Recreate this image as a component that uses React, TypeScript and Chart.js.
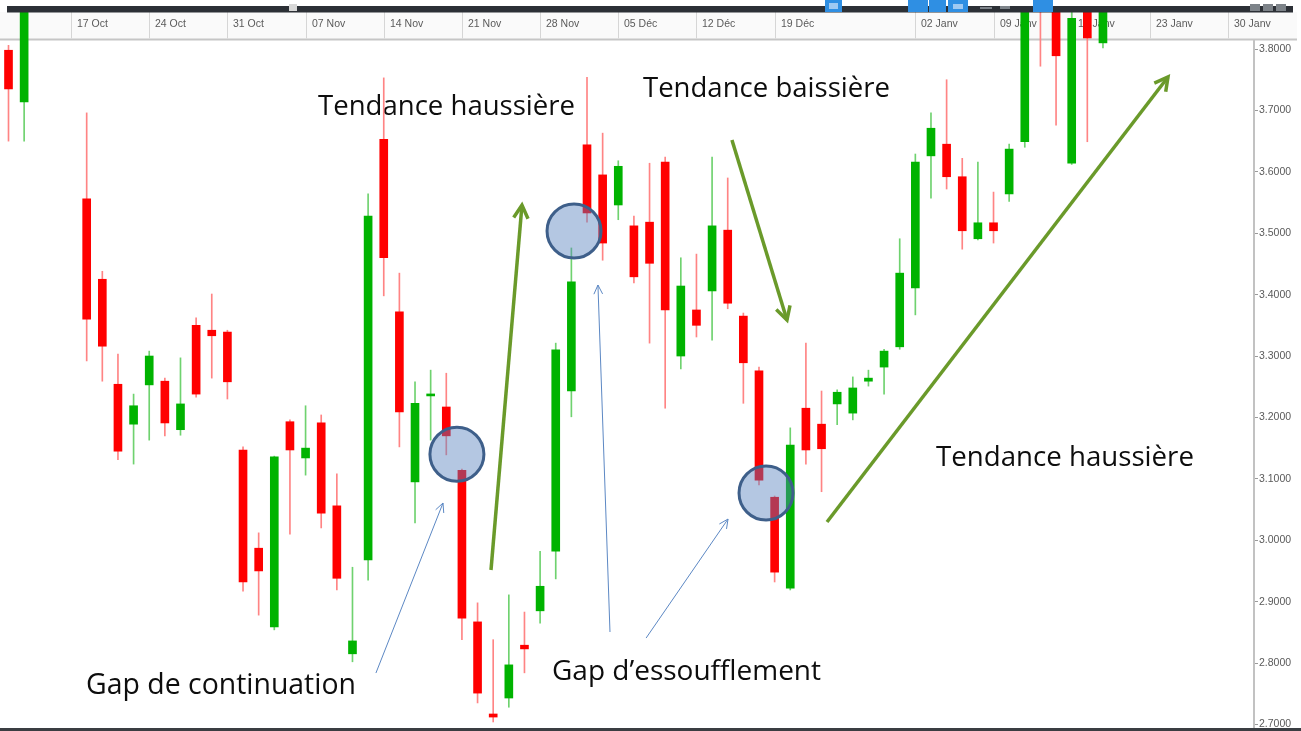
import { useEffect, useRef } from 'react';
import { Chart, registerables } from 'chart.js';

Chart.register(...registerables);

// ---- Data (trading-day index, OHLC) ----
const CANDLE_INDEX = [0, 1, 5, 6, 7, 8, 9, 10, 11, 12, 13, 14, 15, 16, 17, 18, 19, 20, 21, 22, 23, 24, 25, 26, 27, 28, 29, 30, 31, 32, 33, 34, 35, 36, 37, 38, 39, 40, 41, 42, 43, 44, 45, 46, 47, 48, 49, 50, 51, 52, 53, 54, 55, 56, 57, 58, 59, 60, 61, 62, 63, 64, 65, 66, 67, 68, 69, 70];
const OPEN = [3.798, 3.714, 3.556, 3.425, 3.254, 3.189, 3.253, 3.259, 3.180, 3.350, 3.342, 3.339, 3.147, 2.987, 2.859, 3.193, 3.134, 3.191, 3.056, 2.815, 2.968, 3.653, 3.372, 3.095, 3.235, 3.217, 3.114, 2.867, 2.717, 2.743, 2.829, 2.885, 2.982, 3.243, 3.644, 3.595, 3.546, 3.512, 3.518, 3.616, 3.300, 3.375, 3.406, 3.505, 3.365, 3.276, 3.070, 2.922, 3.215, 3.189, 3.222, 3.207, 3.259, 3.282, 3.315, 3.411, 3.626, 3.645, 3.592, 3.491, 3.517, 3.564, 3.649, 3.950, 3.920, 3.614, 3.900, 3.810];
const HIGH = [3.806, 3.900, 3.696, 3.438, 3.303, 3.238, 3.308, 3.264, 3.297, 3.362, 3.401, 3.342, 3.152, 3.012, 3.137, 3.196, 3.219, 3.204, 3.108, 2.956, 3.564, 3.753, 3.435, 3.258, 3.277, 3.272, 3.116, 2.898, 2.838, 2.911, 2.883, 2.982, 3.321, 3.476, 3.754, 3.663, 3.618, 3.528, 3.614, 3.624, 3.460, 3.466, 3.624, 3.590, 3.370, 3.282, 3.072, 3.183, 3.321, 3.243, 3.245, 3.266, 3.277, 3.311, 3.491, 3.629, 3.696, 3.750, 3.622, 3.616, 3.567, 3.645, 3.900, 3.970, 3.950, 3.860, 3.920, 3.900];
const LOW = [3.650, 3.650, 3.292, 3.259, 3.131, 3.124, 3.163, 3.170, 3.171, 3.233, 3.264, 3.230, 2.917, 2.878, 2.854, 3.010, 3.106, 3.020, 2.919, 2.802, 2.935, 3.398, 3.152, 3.028, 3.163, 3.139, 2.838, 2.735, 2.704, 2.728, 2.784, 2.865, 2.937, 3.201, 3.518, 3.456, 3.522, 3.419, 3.321, 3.215, 3.279, 3.331, 3.326, 3.377, 3.223, 3.090, 2.932, 2.919, 3.124, 3.079, 3.188, 3.196, 3.251, 3.238, 3.311, 3.367, 3.557, 3.572, 3.474, 3.489, 3.484, 3.552, 3.640, 3.772, 3.676, 3.612, 3.649, 3.802];
const CLOSE = [3.735, 3.880, 3.360, 3.316, 3.145, 3.219, 3.300, 3.191, 3.222, 3.238, 3.333, 3.258, 2.932, 2.950, 3.136, 3.147, 3.150, 3.044, 2.938, 2.836, 3.528, 3.460, 3.209, 3.223, 3.237, 3.170, 2.873, 2.751, 2.712, 2.797, 2.823, 2.925, 3.310, 3.421, 3.533, 3.484, 3.609, 3.429, 3.451, 3.375, 3.414, 3.350, 3.512, 3.386, 3.289, 3.098, 2.948, 3.155, 3.147, 3.149, 3.241, 3.248, 3.264, 3.308, 3.435, 3.616, 3.671, 3.592, 3.504, 3.517, 3.504, 3.637, 3.880, 3.900, 3.789, 3.850, 3.818, 3.880];

// Date labels in the top header (trading-day index of each Monday)
const DATE_INDEX = [4, 9, 14, 19, 24, 29, 34, 39, 44, 49, 58, 63, 68, 73, 78];
const DATE_LABELS = ['17 Oct', '24 Oct', '31 Oct', '07 Nov', '14 Nov', '21 Nov', '28 Nov', '05 Déc', '12 Déc', '19 Déc', '02 Janv', '09 Janv', '16 Janv', '23 Janv', '30 Janv'];

// Price axis tick values
const Y_TICKS = [2.7, 2.8, 2.9, 3.0, 3.1, 3.2, 3.3, 3.4, 3.5, 3.6, 3.7, 3.8];

// Annotations (data coordinates: index, price)
const NOTE_TEXTS = ['Tendance haussière', 'Tendance baissière', 'Tendance haussière', 'Gap de continuation', 'Gap d’essoufflement'];
const NOTE_AT_INDEX = [19.8, 40.58, 59.32, 4.96, 34.76];
const NOTE_AT_PRICE = [3.6925, 3.7218, 3.1208, 2.7495, 2.7723];

const GAP_CIRCLE_INDEX = [28.68, 36.17, 48.45];
const GAP_CIRCLE_PRICE = [3.140, 3.5036, 3.0769];

// trend arrows: [fromIndex, fromPrice, toIndex, toPrice]
const TREND_ARROWS = [
  [30.86, 2.9515, 32.84, 3.5459],
  [46.27, 3.6518, 49.79, 3.3586],
  [52.35, 3.0296, 74.16, 3.7544],
];
const POINTER_ARROWS = [
  [23.5, 2.7837, 27.79, 3.0606],
  [38.47, 2.8505, 37.70, 3.4156],
  [40.78, 2.8407, 46.02, 3.0345],
];

const UP = '#00b300';
const DOWN = '#ff0000';
const UP_WICK = '#6fd26f';
const DOWN_WICK = '#ff8484';

function isUp(k: number) {
  return CLOSE[k] >= OPEN[k];
}

function drawArrow(ctx: CanvasRenderingContext2D, x1: number, y1: number, x2: number, y2: number, color: string, width: number, head: number, ang: number) {
  ctx.save();
  ctx.strokeStyle = color;
  ctx.lineWidth = width;
  ctx.lineCap = 'butt';
  ctx.lineJoin = 'miter';
  ctx.beginPath();
  ctx.moveTo(x1, y1);
  ctx.lineTo(x2, y2);
  ctx.stroke();
  const a = Math.atan2(y2 - y1, x2 - x1);
  ctx.beginPath();
  ctx.moveTo(x2 - head * Math.cos(a - ang), y2 - head * Math.sin(a - ang));
  ctx.lineTo(x2, y2);
  ctx.lineTo(x2 - head * Math.cos(a + ang), y2 - head * Math.sin(a + ang));
  ctx.stroke();
  ctx.restore();
}

const NOTE_WIDTHS = [257, 247, 258, 270, 269];

const decorPlugin = {
  id: 'decor',
  beforeDraw(chart: any) {
    const ctx = chart.ctx;
    ctx.save();
    ctx.fillStyle = '#ffffff';
    ctx.fillRect(0, 0, chart.width, chart.height);
    ctx.restore();
  },
  beforeDatasetsDraw(chart: any) {
    const ctx: CanvasRenderingContext2D = chart.ctx;
    const xs = chart.scales.x;
    const ys = chart.scales.y;
    ctx.save();
    // header row
    ctx.fillStyle = '#fafafa';
    ctx.fillRect(0, 12, 1297, 27);
    ctx.fillStyle = '#c6c6c6';
    ctx.fillRect(0, 38.5, 1297, 2);
    ctx.font = '10.5px "Liberation Sans", Arial, sans-serif';
    ctx.textBaseline = 'middle';
    ctx.textAlign = 'left';
    DATE_INDEX.forEach((d, k) => {
      const x = Math.round(xs.getPixelForValue(d)) + 0.5;
      ctx.strokeStyle = '#d6d6d6';
      ctx.lineWidth = 1;
      ctx.beginPath();
      ctx.moveTo(x, 12);
      ctx.lineTo(x, 38.5);
      ctx.stroke();
      ctx.fillStyle = '#5a5a5a';
      ctx.fillText(DATE_LABELS[k], x + 5.5, 24.5);
    });
    // annotation texts (under the candles)
    ctx.fillStyle = '#0d0d0d';
    ctx.textBaseline = 'alphabetic';
    NOTE_TEXTS.forEach((t, k) => {
      ctx.font = '100px "Open Sans"';
      const w = ctx.measureText(t).width;
      const size = (100 * NOTE_WIDTHS[k]) / w;
      ctx.font = `${size.toFixed(2)}px "Open Sans"`;
      ctx.fillText(t, xs.getPixelForValue(NOTE_AT_INDEX[k]), ys.getPixelForValue(NOTE_AT_PRICE[k]));
    });
    ctx.restore();
  },
  afterDatasetsDraw(chart: any) {
    const ctx: CanvasRenderingContext2D = chart.ctx;
    const xs = chart.scales.x;
    const ys = chart.scales.y;
    ctx.save();
    GAP_CIRCLE_INDEX.forEach((ci, k) => {
      const cx = xs.getPixelForValue(ci);
      const cy = ys.getPixelForValue(GAP_CIRCLE_PRICE[k]);
      ctx.beginPath();
      ctx.arc(cx, cy, 27, 0, Math.PI * 2);
      ctx.fillStyle = 'rgba(84,127,189,0.44)';
      ctx.fill();
      ctx.lineWidth = 3;
      ctx.strokeStyle = '#3e5f8a';
      ctx.stroke();
    });
    TREND_ARROWS.forEach((a) => {
      drawArrow(ctx, xs.getPixelForValue(a[0]), ys.getPixelForValue(a[1]), xs.getPixelForValue(a[2]), ys.getPixelForValue(a[3]), '#6a9a2a', 3.5, 15, 0.5);
    });
    POINTER_ARROWS.forEach((a) => {
      drawArrow(ctx, xs.getPixelForValue(a[0]), ys.getPixelForValue(a[1]), xs.getPixelForValue(a[2]), ys.getPixelForValue(a[3]), '#5c88c4', 1, 10, 0.45);
    });
    ctx.restore();
  },
  afterDraw(chart: any) {
    const ctx: CanvasRenderingContext2D = chart.ctx;
    ctx.save();
    // top toolbar strip
    ctx.fillStyle = '#2c3036';
    ctx.fillRect(7, 6, 1286, 6.5);
    ctx.fillStyle = '#d8d8d8';
    ctx.fillRect(289, 4, 8, 7);
    ctx.fillStyle = '#2f8fe3';
    ctx.fillRect(825, 0, 17, 12);
    ctx.fillRect(908, 0, 20, 12);
    ctx.fillRect(929, 0, 17, 12);
    ctx.fillRect(948, 0, 20, 12);
    ctx.fillRect(1033, 0, 20, 12);
    ctx.fillStyle = '#9fc9f2';
    ctx.fillRect(829, 3, 9, 6);
    ctx.fillRect(953, 4, 10, 5);
    ctx.fillStyle = '#7d8389';
    ctx.fillRect(980, 7, 12, 2);
    ctx.fillRect(1000, 6, 10, 3);
    ctx.fillRect(1250, 4, 10, 7);
    ctx.fillRect(1263, 4, 10, 7);
    ctx.fillRect(1276, 4, 10, 7);
    // bottom frame line
    ctx.fillStyle = '#3a3d42';
    ctx.fillRect(0, 728, 1301, 3);
    ctx.restore();
  },
};

export default function App() {
  const canvasRef = useRef<HTMLCanvasElement | null>(null);

  useEffect(() => {
    if (!canvasRef.current) return;
    const bodies = CANDLE_INDEX.map((x, k) => ({ x, y: [OPEN[k], CLOSE[k]] }));
    const wicks = CANDLE_INDEX.map((x, k) => ({ x, y: [LOW[k], HIGH[k]] }));

    const chart = new Chart(canvasRef.current, {
      type: 'bar',
      data: {
        datasets: [
          {
            label: 'body',
            data: bodies as any,
            grouped: false,
            barThickness: 8,
            minBarLength: 2,
            borderWidth: 0,
            backgroundColor: (c: any) => (isUp(c.dataIndex) ? UP : DOWN),
          } as any,
          {
            label: 'wick',
            data: wicks as any,
            grouped: false,
            barThickness: 1,
            borderWidth: 0,
            backgroundColor: (c: any) => (isUp(c.dataIndex) ? UP_WICK : DOWN_WICK),
          } as any,
        ],
      },
      options: {
        animation: false,
        responsive: true,
        maintainAspectRatio: false,
        layout: { padding: { top: 12, bottom: 4, left: 0, right: 0 } },
        plugins: { legend: { display: false }, tooltip: { enabled: false } },
        events: [],
        scales: {
          x: {
            type: 'linear',
            display: false,
            offset: false,
            min: -0.544,
            max: 79.66,
            grid: { offset: false },
          },
          y: {
            type: 'linear',
            position: 'right',
            min: 2.6958,
            max: 3.8603,
            afterBuildTicks: (s: any) => {
              s.ticks = Y_TICKS.map((v) => ({ value: v }));
            },
            afterFit: (s: any) => {
              s.width = 47;
              s.paddingTop = 0;
              s.paddingBottom = 0;
            },
            grid: {
              drawOnChartArea: false,
              drawTicks: true,
              tickLength: 4,
              tickColor: '#9a9a9a',
            },
            border: { display: true, color: '#c2c2c2', width: 2 },
            ticks: {
              padding: 1,
              color: '#5a5a5a',
              font: { family: '"Liberation Sans", Arial, sans-serif', size: 10.5 },
              callback: (v: any) => Number(v).toFixed(4),
            },
          },
        },
      } as any,
      plugins: [decorPlugin],
    });
    return () => chart.destroy();
  }, []);

  return (
    <div style={{ position: 'absolute', left: 0, top: 0, width: 1301, height: 731, background: '#fff' }}>
      <canvas ref={canvasRef} />
    </div>
  );
}
